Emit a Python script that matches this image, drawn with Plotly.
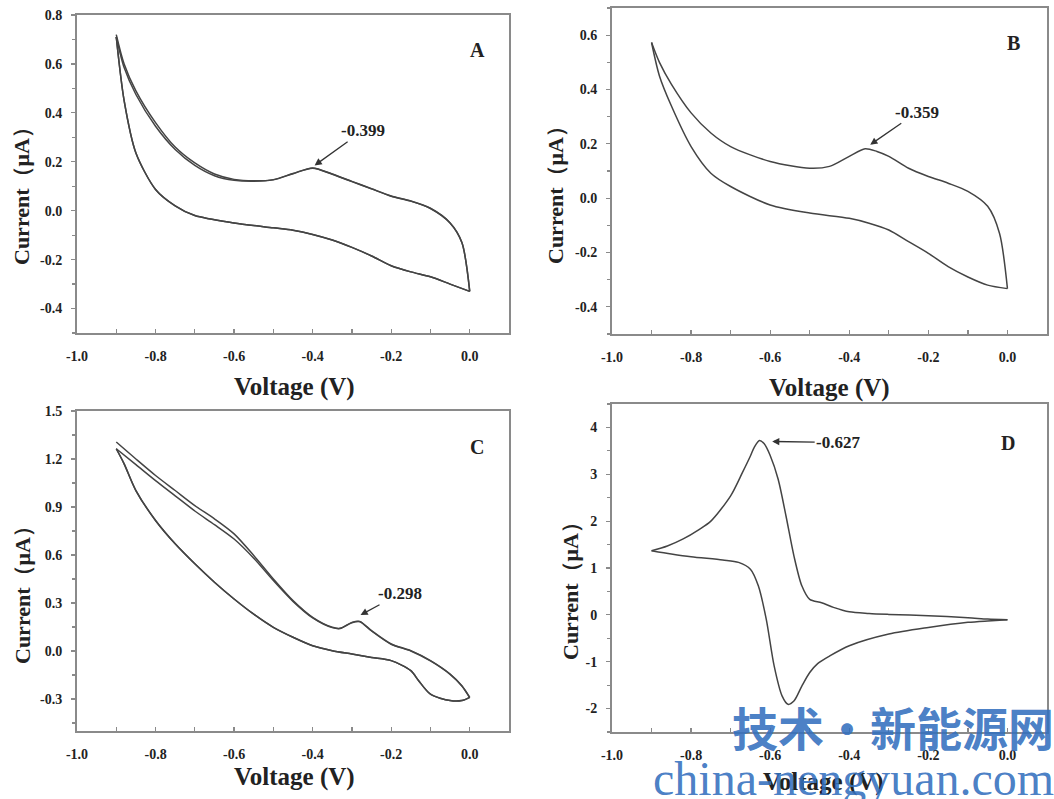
import plotly.graph_objects as go

W, H = 1054, 799

# ---------------- data ----------------
# Panel A : two cycles
A1_up_V = [-0.9, -0.88, -0.85, -0.8, -0.75, -0.7, -0.65, -0.6, -0.55, -0.5, -0.45, -0.4, -0.35, -0.3, -0.25, -0.2, -0.15, -0.1, -0.05, -0.02, 0.0]
A1_up_I = [0.72, 0.60, 0.49, 0.36, 0.26, 0.195, 0.15, 0.128, 0.122, 0.127, 0.152, 0.175, 0.15, 0.12, 0.09, 0.06, 0.04, 0.01, -0.05, -0.13, -0.33]
A2_up_V = [-0.9, -0.88, -0.85, -0.8, -0.75, -0.7, -0.65, -0.6, -0.55, -0.5, -0.45, -0.4, -0.35, -0.3, -0.25, -0.2, -0.15, -0.1, -0.05, -0.02, 0.0]
A2_up_I = [0.71, 0.585, 0.475, 0.345, 0.25, 0.185, 0.143, 0.124, 0.12, 0.126, 0.151, 0.174, 0.149, 0.119, 0.089, 0.059, 0.039, 0.009, -0.05, -0.13, -0.33]
A_dn_V = [0.0, -0.05, -0.1, -0.15, -0.2, -0.25, -0.3, -0.35, -0.4, -0.45, -0.5, -0.6, -0.7, -0.75, -0.8, -0.85, -0.88, -0.9]
A_dn_I = [-0.33, -0.30, -0.27, -0.25, -0.225, -0.185, -0.15, -0.12, -0.097, -0.08, -0.07, -0.05, -0.02, 0.02, 0.087, 0.236, 0.45, 0.71]

# Panel B
B_up_V = [-0.9, -0.88, -0.85, -0.8, -0.75, -0.7, -0.6, -0.5, -0.45, -0.4, -0.36, -0.33, -0.3, -0.25, -0.2, -0.15, -0.1, -0.05, -0.02, 0.0]
B_up_I = [0.573, 0.50, 0.42, 0.314, 0.24, 0.19, 0.135, 0.11, 0.117, 0.154, 0.182, 0.172, 0.154, 0.11, 0.08, 0.055, 0.025, -0.03, -0.13, -0.333]
B_dn_V = [0.0, -0.05, -0.1, -0.15, -0.2, -0.25, -0.3, -0.35, -0.4, -0.5, -0.6, -0.7, -0.75, -0.8, -0.85, -0.88, -0.9]
B_dn_I = [-0.333, -0.32, -0.29, -0.252, -0.203, -0.16, -0.117, -0.092, -0.074, -0.055, -0.025, 0.043, 0.092, 0.19, 0.34, 0.45, 0.573]

# Panel C : two cycles
C1_up_V = [-0.9, -0.85, -0.8, -0.75, -0.7, -0.65, -0.6, -0.55, -0.5, -0.45, -0.4, -0.35, -0.33, -0.3, -0.28, -0.25, -0.2, -0.15, -0.1, -0.05, -0.02, 0.0]
C1_up_I = [1.306, 1.20, 1.097, 1.003, 0.909, 0.826, 0.732, 0.597, 0.45, 0.315, 0.21, 0.148, 0.142, 0.179, 0.185, 0.127, 0.044, 0.002, -0.06, -0.144, -0.217, -0.29]
C2_up_V = [-0.9, -0.85, -0.8, -0.75, -0.7, -0.65, -0.6, -0.55, -0.5, -0.45, -0.4, -0.35, -0.33, -0.3, -0.28, -0.25, -0.2, -0.15, -0.1, -0.05, -0.02, 0.0]
C2_up_I = [1.264, 1.165, 1.065, 0.97, 0.875, 0.79, 0.70, 0.58, 0.44, 0.31, 0.207, 0.146, 0.14, 0.177, 0.183, 0.125, 0.042, 0.0, -0.062, -0.146, -0.219, -0.292]
C_dn_V = [0.0, -0.02, -0.05, -0.1, -0.13, -0.15, -0.2, -0.25, -0.3, -0.35, -0.4, -0.45, -0.5, -0.55, -0.6, -0.65, -0.7, -0.75, -0.8, -0.85, -0.88, -0.9]
C_dn_I = [-0.29, -0.31, -0.31, -0.27, -0.186, -0.123, -0.06, -0.04, -0.019, 0.002, 0.033, 0.086, 0.148, 0.23, 0.325, 0.43, 0.545, 0.67, 0.816, 1.003, 1.17, 1.264]

# Panel D
D_up_V = [-0.9, -0.86, -0.82, -0.78, -0.75, -0.7, -0.67, -0.65, -0.64, -0.627, -0.615, -0.6, -0.58, -0.56, -0.54, -0.52, -0.5, -0.47, -0.44, -0.4, -0.35, -0.3, -0.2, -0.1, -0.05, 0.0]
D_up_I = [1.37, 1.47, 1.62, 1.82, 2.0, 2.54, 3.04, 3.39, 3.58, 3.72, 3.65, 3.40, 2.9, 2.11, 1.26, 0.62, 0.33, 0.26, 0.16, 0.064, 0.03, 0.01, -0.02, -0.06, -0.09, -0.107]
D_dn_V = [0.0, -0.05, -0.1, -0.2, -0.3, -0.4, -0.45, -0.48, -0.5, -0.52, -0.54, -0.555, -0.57, -0.59, -0.61, -0.63, -0.65, -0.68, -0.72, -0.8, -0.85, -0.9]
D_dn_I = [-0.107, -0.13, -0.16, -0.27, -0.41, -0.66, -0.88, -1.04, -1.23, -1.52, -1.84, -1.91, -1.73, -1.09, -0.09, 0.62, 0.975, 1.12, 1.17, 1.24, 1.30, 1.37]

# peak labels
peak_labels = ["-0.399", "-0.359", "-0.298", "-0.627"]
panel_letters = ["A", "B", "C", "D"]

x_ticks = [-1.0, -0.8, -0.6, -0.4, -0.2, 0.0]
x_ticktext = ["-1.0", "-0.8", "-0.6", "-0.4", "-0.2", "0.0"]
yA_ticks = [-0.4, -0.2, 0.0, 0.2, 0.4, 0.6, 0.8]
yA_text = ["-0.4", "-0.2", "0.0", "0.2", "0.4", "0.6", "0.8"]
yB_ticks = [-0.4, -0.2, 0.0, 0.2, 0.4, 0.6]
yB_text = ["-0.4", "-0.2", "0.0", "0.2", "0.4", "0.6"]
yC_ticks = [-0.3, 0.0, 0.3, 0.6, 0.9, 1.2, 1.5]
yC_text = ["-0.3", "0.0", "0.3", "0.6", "0.9", "1.2", "1.5"]
yD_ticks = [-2, -1, 0, 1, 2, 3, 4]
yD_text = ["-2", "-1", "0", "1", "2", "3", "4"]

x_title = "Voltage (V)"
y_title = "Current（μA）"

# ---------------- layout helpers ----------------
def fx(px):
    return px / W

def fy(py):
    return 1 - py / H

def bold(lst):
    return [f"<b>{s}</b>" for s in lst]

SERIF = "Liberation Serif, Times New Roman, serif"
LINE = "#444444"
FRAME = "#8a8a8a"

# pixel boxes: (left, right, top, bottom)
boxes = [(77, 509, 15, 333), (612, 1047, 8, 334), (77, 509, 411, 731), (612, 1047, 404, 732)]
yranges = [[-0.5, 0.8], [-0.5, 0.7], [-0.5, 1.5], [-2.5, 4.5]]
yticks = [(yA_ticks, yA_text, 0.1), (yB_ticks, yB_text, 0.1), (yC_ticks, yC_text, 0.15), (yD_ticks, yD_text, 0.5)]

fig = go.Figure()

series = [
    [(A1_up_V, A1_up_I), (A_dn_V, A_dn_I), (A2_up_V, A2_up_I), (A_dn_V, A_dn_I)],
    [(B_up_V, B_up_I), (B_dn_V, B_dn_I)],
    [(C1_up_V, C1_up_I), (C_dn_V, C_dn_I), (C2_up_V, C2_up_I), (C_dn_V, C_dn_I)],
    [(D_up_V, D_up_I), (D_dn_V, D_dn_I)],
]

for k, segs in enumerate(series):
    xa = "x" if k == 0 else f"x{k+1}"
    ya = "y" if k == 0 else f"y{k+1}"
    for v, i in segs:
        fig.add_trace(go.Scatter(x=v, y=i, mode="lines", xaxis=xa, yaxis=ya,
                                 line=dict(color=LINE, width=1.5, shape="spline", smoothing=0.8),
                                 showlegend=False, hoverinfo="skip"))

layout = dict(width=W, height=H, margin=dict(l=0, r=0, t=0, b=0, autoexpand=False),
              paper_bgcolor="white", plot_bgcolor="white", showlegend=False)

for k in range(4):
    l, r, t, b = boxes[k]
    xk = "xaxis" if k == 0 else f"xaxis{k+1}"
    yk = "yaxis" if k == 0 else f"yaxis{k+1}"
    xa_id = "x" if k == 0 else f"x{k+1}"
    ya_id = "y" if k == 0 else f"y{k+1}"
    tv, tt, mdt = yticks[k]
    layout[xk] = dict(domain=[fx(l), fx(r)], range=[-1.0, 0.1], anchor=ya_id, automargin=False,
                      showgrid=False, zeroline=False, showline=True, linecolor=FRAME, linewidth=2,
                      mirror=True, ticks="inside", ticklen=4, tickwidth=1.2, tickcolor=FRAME,
                      tickvals=x_ticks, ticktext=bold(x_ticktext), ticklabelstandoff=9,
                      minor=dict(dtick=0.1, tick0=-1.0, ticks="inside", ticklen=4, tickwidth=1.2, tickcolor=FRAME, showgrid=False),
                      tickfont=dict(family=SERIF, size=14, color="#222"))
    layout[yk] = dict(domain=[fy(b), fy(t)], range=yranges[k], anchor=xa_id, automargin=False,
                      showgrid=False, zeroline=False, showline=True, linecolor=FRAME, linewidth=2,
                      mirror=True, ticks="outside", ticklen=4, tickwidth=1.2, tickcolor=FRAME,
                      tickvals=tv, ticktext=bold(tt), ticklabelstandoff=6,
                      minor=dict(dtick=mdt, tick0=0, ticks="outside", ticklen=3, tickwidth=1.2, tickcolor=FRAME, showgrid=False),
                      tickfont=dict(family=SERIF, size=14, color="#222"))

fig.update_layout(**layout)

ann = []
# axis titles
xt_pos = [(294, 387), (829, 388), (294, 777), (823, 782)]
yt_pos = [(22, 191), (555, 190), (22, 590), (570, 586)]
for k in range(4):
    ann.append(dict(text=f"<b>{x_title}</b>", xref="paper", yref="paper", x=fx(xt_pos[k][0]), y=fy(xt_pos[k][1]),
                    xanchor="center", yanchor="middle", showarrow=False,
                    font=dict(family=SERIF, size=25, color="#222")))
    ann.append(dict(text=f"<b>{y_title}</b>", xref="paper", yref="paper", x=fx(yt_pos[k][0]), y=fy(yt_pos[k][1]),
                    xanchor="center", yanchor="middle", showarrow=False, textangle=-90,
                    font=dict(family=SERIF, size=22, color="#222")))

# panel letters
let_pos = [(477, 50), (1013, 43), (477, 447), (1008, 443)]
for k in range(4):
    ann.append(dict(text=f"<b>{panel_letters[k]}</b>", xref="paper", yref="paper",
                    x=fx(let_pos[k][0]), y=fy(let_pos[k][1]), xanchor="center", yanchor="middle",
                    showarrow=False, font=dict(family=SERIF, size=20, color="#222")))

# peak arrows (head in data coords, text position in data coords)
heads = [(-0.395, 0.185), (-0.347, 0.197), (-0.278, 0.225), (-0.595, 3.70)]
tails = [(-0.272, 0.327), (-0.228, 0.316), (-0.178, 0.358), (-0.428, 3.68)]
for k in range(4):
    xa_id = "x" if k == 0 else f"x{k+1}"
    ya_id = "y" if k == 0 else f"y{k+1}"
    ann.append(dict(text=f"<b>{peak_labels[k]}</b>", x=heads[k][0], y=heads[k][1], xref=xa_id, yref=ya_id,
                    ax=tails[k][0], ay=tails[k][1], axref=xa_id, ayref=ya_id,
                    showarrow=True, arrowhead=2, arrowsize=1.1, arrowwidth=1.3, arrowcolor="#333",
                    font=dict(family=SERIF, size=17, color="#222")))

# watermark
ann.append(dict(text="<b>技术・新能源网</b>", xref="paper", yref="paper", x=fx(1056), y=fy(726),
                xanchor="right", yanchor="middle", showarrow=False,
                font=dict(family="Noto Sans CJK SC", size=46, color="rgba(52,112,190,0.9)")))
ann.append(dict(text="china-nengyuan.com", xref="paper", yref="paper", x=fx(1056), y=fy(778),
                xanchor="right", yanchor="middle", showarrow=False,
                font=dict(family=SERIF, size=48, color="rgba(52,112,190,0.9)")))

fig.update_layout(annotations=ann)
fig.write_html("out.html", config={"displayModeBar": False, "staticPlot": True},
               post_script="document.body.style.margin='0';document.body.style.overflow='hidden';")
